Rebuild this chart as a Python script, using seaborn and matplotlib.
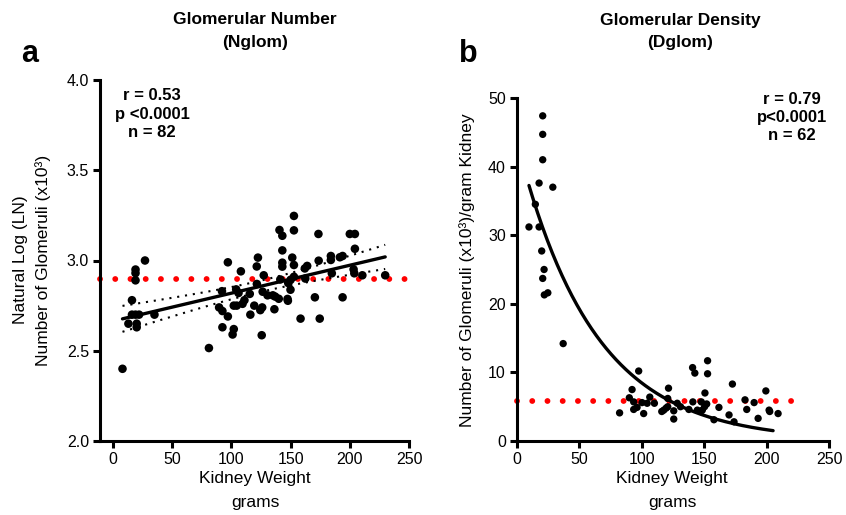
import numpy as np
import pandas as pd
import matplotlib
matplotlib.use("Agg")
import matplotlib.pyplot as plt
import seaborn as sns

sns.set_style("ticks")
plt.rcParams['font.family'] = ['Liberation Sans', 'DejaVu Sans']
for k in ("text.color", "axes.labelcolor", "xtick.color", "ytick.color", "axes.edgecolor"):
    plt.rcParams[k] = "black"

# ---------------- Data: panel a (Glomerular Number) ----------------
nglom_weight = [8, 13, 16, 19, 19, 19, 16, 19, 22, 20, 20, 27, 35,
                81, 92, 97, 89.6, 92.4, 97, 92.4, 102, 101, 104, 106, 108, 102, 104.5,
                109.4, 111, 116, 115.5, 119.3, 121.5, 121.4, 122.4, 126, 124.4, 125.6,
                127.3, 126.4, 130.5, 135, 137, 136.3, 140, 140.6, 143, 143, 143, 143,
                141.3, 147.4, 147.7, 149.9, 150, 148, 151.4, 152.8, 152.8, 152.8, 152.8,
                158.4, 162, 164, 162.4, 170.5, 173.5, 173.7, 174.6, 184, 184, 184.8,
                191.6, 193.9, 193.9, 200, 204.3, 204.3, 203.2, 203.8, 210.6, 229.9]
nglom_ln = [2.40, 2.65, 2.78, 2.95, 2.93, 2.89, 2.70, 2.70, 2.70, 2.65, 2.63, 3.00, 2.70,
            2.515, 2.83, 2.99, 2.74, 2.72, 2.69, 2.63, 2.62, 2.59, 2.84, 2.82, 2.94, 2.75, 2.75,
            2.76, 2.78, 2.70, 2.815, 2.75, 2.87, 2.967, 3.016, 2.74, 2.725, 2.586,
            2.918, 2.827, 2.807, 2.807, 2.80, 2.73, 2.788, 3.169, 3.137, 3.056, 2.988, 2.966,
            2.895, 2.787, 2.777, 2.838, 2.893, 2.875, 3.016, 2.975, 3.247, 3.167, 2.91,
            2.678, 2.956, 2.97, 2.90, 2.796, 3.147, 2.999, 2.678, 3.025, 3.003, 2.929,
            3.018, 3.025, 2.796, 3.147, 3.147, 3.065, 2.951, 2.929, 2.918, 2.918]
nglom_ref = 2.9

# ---------------- Data: panel b (Glomerular Density) ----------------
dglom_weight = [9.6, 14.7, 17.7, 17.7, 19.8, 20.6, 20.6, 20.6, 20.6, 21.7, 21.9, 24.7, 28.7, 37,
                82.2, 90, 92.2, 93.5, 93.5, 96.2, 97.5, 100.2, 101.5, 104.3, 106.4, 110.1,
                116, 117.6, 119.5, 120.8, 120.8, 121.4, 125.6, 125.6, 128.4, 131, 137.7,
                140.7, 142.5, 140.9, 144.5, 147.1, 148.5, 147.7, 150.3, 152, 150.6, 152.7,
                152.7, 157.8, 161.8, 169.9, 172.6, 173.9, 182.7, 184.1, 190, 193.2, 199.4,
                202, 202.5, 209.2]
dglom_density = [31.2, 34.5, 37.6, 31.2, 27.7, 47.4, 44.7, 41.0, 23.7, 25.0, 21.3, 21.6, 37.0, 14.2,
                 4.1, 6.3, 7.5, 5.7, 4.6, 4.9, 10.2, 5.6, 4.0, 5.5, 6.4, 5.5,
                 4.3, 4.5, 4.8, 5.0, 6.2, 7.7, 4.4, 3.2, 5.5, 5.0, 4.6,
                 10.7, 9.9, 5.7, 4.5, 4.3, 4.5, 5.7, 5.0, 5.4, 7.0, 11.7,
                 9.8, 3.1, 4.9, 3.8, 8.3, 2.8, 6.0, 4.6, 5.6, 3.3, 7.3,
                 4.5, 4.3, 4.0]
dglom_ref = 5.8
# one-phase exponential decay fit: y = A * exp(-k * x)
decay_A = 43.6
decay_k = 0.0164

W, H = 846, 515
fig = plt.figure(figsize=(W / 100, H / 100), dpi=100)

def px_axes(x0, y0, x1, y1):
    return fig.add_axes([x0 / W, 1 - y1 / H, (x1 - x0) / W, (y1 - y0) / H])

ax1 = px_axes(100, 80, 409, 441)
ax2 = px_axes(517, 98, 829, 441)

SPINE_LW = 2.2
TICK_FS = 11.5

for ax in (ax1, ax2):
    sns.despine(ax=ax)
    for s in ("left", "bottom"):
        ax.spines[s].set_linewidth(SPINE_LW)
        ax.spines[s].set_color("black")
    ax.tick_params(width=SPINE_LW, length=5, labelsize=TICK_FS, direction="out", pad=3,
                   color="black", labelcolor="black")

# ---- Panel a ----
dfa = pd.DataFrame({"weight": nglom_weight, "ln": nglom_ln})
x = np.asarray(nglom_weight, float)
y = np.asarray(nglom_ln, float)
n = len(x)
slope, intercept = np.polyfit(x, y, 1)
resid = y - (slope * x + intercept)
s_err = np.sqrt(np.sum(resid ** 2) / (n - 2))
sxx = np.sum((x - x.mean()) ** 2)
xs = np.linspace(x.min(), x.max(), 100)
fit = slope * xs + intercept
half = 1.99 * s_err * np.sqrt(1 / n + (xs - x.mean()) ** 2 / sxx)

ax1.plot([-11, 256], [nglom_ref, nglom_ref], color="#ff0000", lw=4.2,
         linestyle=(0, (0.01, 2.6)), dash_capstyle="round", clip_on=False, zorder=1)
sns.scatterplot(data=dfa, x="weight", y="ln", ax=ax1, color="black", s=38,
                edgecolor="none", zorder=3, legend=False)
ax1.plot(xs, fit, color="black", lw=2.4, zorder=4)
ax1.plot(xs, fit + half, color="black", lw=1.5, linestyle=(0, (1, 2.8)), zorder=4)
ax1.plot(xs, fit - half, color="black", lw=1.5, linestyle=(0, (1, 2.8)), zorder=4)

ax1.set_xlim(-11, 250)
ax1.set_ylim(2.0, 4.0)
ax1.set_xticks([0, 50, 100, 150, 200, 250])
ax1.set_yticks([2.0, 2.5, 3.0, 3.5, 4.0])
ax1.set_yticklabels(["2.0", "2.5", "3.0", "3.5", "4.0"])
ax1.set_xlabel("")
ax1.set_ylabel("")

# ---- Panel b ----
dfb = pd.DataFrame({"weight": dglom_weight, "density": dglom_density})
xb = np.linspace(min(dglom_weight), max(dglom_weight) - 4, 200)
yb = decay_A * np.exp(-decay_k * xb)

ax2.plot([0, 229], [dglom_ref, dglom_ref], color="#ff0000", lw=4.2,
         linestyle=(0, (0.01, 2.6)), dash_capstyle="round", clip_on=False, zorder=1)
sns.scatterplot(data=dfb, x="weight", y="density", ax=ax2, color="black", s=28,
                edgecolor="none", zorder=3, legend=False)
sns.lineplot(x=xb, y=yb, ax=ax2, color="black", lw=2.4, zorder=4)

ax2.set_xlim(0, 250)
ax2.set_ylim(0, 50)
ax2.set_xticks([0, 50, 100, 150, 200, 250])
ax2.set_yticks([0, 10, 20, 30, 40, 50])
ax2.set_xlabel("")
ax2.set_ylabel("")

# ---- Texts ----
def ftext(x, y, s, **kw):
    fig.text(x / W, 1 - y / H, s, ha=kw.pop("ha", "center"), va=kw.pop("va", "center"),
             color="black", **kw)

TITLE_FS = 12.5
ftext(255, 20, "Glomerular Number", fontsize=TITLE_FS, fontweight="bold")
ftext(255, 43, "(Nglom)", fontsize=TITLE_FS, fontweight="bold")
ftext(680, 20, "Glomerular Density", fontsize=TITLE_FS, fontweight="bold")
ftext(680, 43, "(Dglom)", fontsize=TITLE_FS, fontweight="bold")

ftext(30, 54, "a", fontsize=22, fontweight="bold")
ftext(468, 54, "b", fontsize=22, fontweight="bold")

STAT_FS = 12
ftext(152, 96, "r = 0.53", fontsize=STAT_FS, fontweight="bold")
ftext(152, 114, "p <0.0001", fontsize=STAT_FS, fontweight="bold")
ftext(152, 132, "n = 82", fontsize=STAT_FS, fontweight="bold")
ftext(792, 100, "r = 0.79", fontsize=STAT_FS, fontweight="bold")
ftext(792, 118, "p<0.0001", fontsize=STAT_FS, fontweight="bold")
ftext(792, 136, "n = 62", fontsize=STAT_FS, fontweight="bold")

LAB_FS = 12.5
ftext(255, 478, "Kidney Weight", fontsize=LAB_FS)
ftext(255, 502, "grams", fontsize=LAB_FS)
ftext(672, 478, "Kidney Weight", fontsize=LAB_FS)
ftext(672, 502, "grams", fontsize=LAB_FS)

ftext(20, 260, "Natural Log (LN)", fontsize=LAB_FS, rotation=90)
ftext(43, 260, "Number of Glomeruli (x10³)", fontsize=LAB_FS, rotation=90)
ftext(467, 270, "Number of Glomeruli (x10³)/gram Kidney", fontsize=LAB_FS,
      rotation=90)

fig.savefig("out.png", dpi=100)
